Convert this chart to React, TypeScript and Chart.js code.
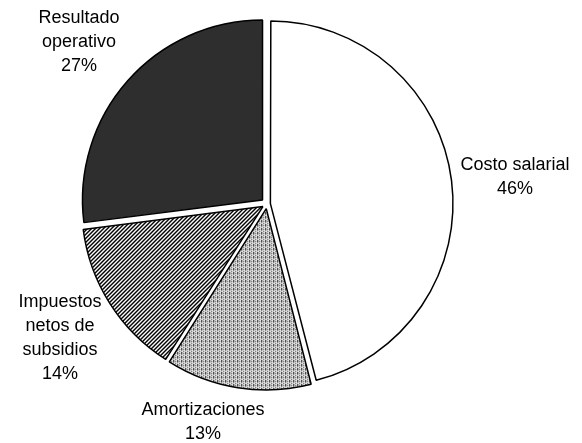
import { useEffect, useRef } from "react";
import { Chart, registerables } from "chart.js";

Chart.register(...registerables);

const categories = ["Costo salarial", "Amortizaciones", "Impuestos netos de subsidios", "Resultado operativo"];
const values = [46, 13, 14, 27];
const labelLines = [["Costo salarial"], ["Amortizaciones"], ["Impuestos", "netos de", "subsidios"], ["Resultado", "operativo"]];

// label anchor: center x, center y of first line
const labelAnchors = [
  [515, 165],
  [203, 410],
  [60, 302],
  [79, 18],
];

const W = 582;
const H = 443;
const EXPLODE = 6;

function makePattern(kind: string): CanvasPattern | string {
  const c = document.createElement("canvas");
  const size = 4;
  c.width = size;
  c.height = size;
  const g = c.getContext("2d")!;
  g.fillStyle = "#ffffff";
  g.fillRect(0, 0, size, size);
  g.fillStyle = "#000000";
  for (let y = 0; y < size; y++) {
    for (let x = 0; x < size; x++) {
      let on = false;
      if (kind === "hatch") on = (x + y) % 4 < 2;
      if (kind === "dots") on = (y % 2 === 0 && x % 4 === 0) || (y % 2 === 1 && x % 4 === 2) || (y === 0 && x === 2);
      if (on) g.fillRect(x, y, 1, 1);
    }
  }
  const p = g.createPattern(c, "repeat");
  return p || "#888";
}

function offsetFor(v: number, total: number) {
  const circ = (v / total) * Math.PI * 2;
  const fix = 1 - Math.sin(Math.min(Math.PI, circ));
  return (4 * EXPLODE) / (1 + fix);
}

const labelPlugin = {
  id: "outsideLabels",
  afterDraw(chart: any) {
    const ctx = chart.ctx;
    ctx.save();
    ctx.font = "18px 'Liberation Sans', Arial, sans-serif";
    ctx.fillStyle = "#000";
    ctx.textAlign = "center";
    ctx.textBaseline = "middle";
    const lh = 24;
    values.forEach((v, i) => {
      const lines = [...labelLines[i], `${v}%`];
      const [x, y] = labelAnchors[i];
      lines.forEach((t, j) => ctx.fillText(t, x, y + j * lh));
    });
    ctx.restore();
  },
};

export default function App() {
  const ref = useRef<HTMLCanvasElement>(null);
  useEffect(() => {
    document.body.style.margin = "0";
    const total = values.reduce((a, b) => a + b, 0);
    const colors = ["#ffffff", makePattern("dots"), makePattern("hatch"), "#2e2e2e"];
    const chart = new Chart(ref.current!, {
      type: "pie",
      data: {
        labels: categories,
        datasets: [
          {
            data: values,
            backgroundColor: colors as any,
            borderColor: "#000000",
            borderWidth: 1.5,
            offset: values.map((v) => offsetFor(v, total)),
            hoverOffset: 0,
          } as any,
        ],
      },
      options: {
        responsive: false,
        animation: false,
        events: [],
        radius: 180,
        layout: { padding: { left: 0, right: 48, top: 0, bottom: 35 } },
        plugins: {
          legend: { display: false },
          tooltip: { enabled: false },
        },
      } as any,
      plugins: [labelPlugin],
    });
    return () => chart.destroy();
  }, []);
  return (
    <div style={{ width: W, height: H, background: "#fff" }}>
      <canvas ref={ref} width={W} height={H} style={{ display: "block" }} />
    </div>
  );
}
